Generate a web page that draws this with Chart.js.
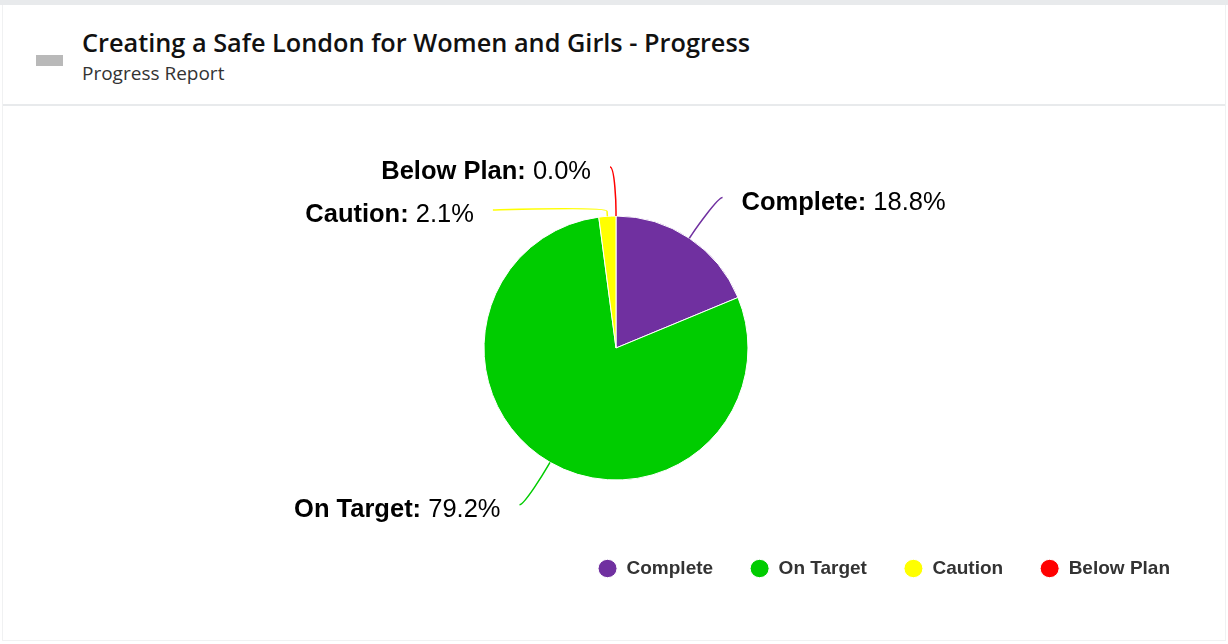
<!DOCTYPE html>
<html lang="en">
<head>
    <meta charset="UTF-8">
    <title>Creating a Safe London for Women and Girls - Progress</title>
    <script src="https://cdn.jsdelivr.net/npm/chart.js@4.4.0/dist/chart.umd.min.js"></script>
    <style>
        html, body { margin: 0; padding: 0; background: #fff; }
        body { width: 1228px; height: 644px; position: relative; overflow: hidden; font-family: "Open Sans", sans-serif; }
        .topbar { position: absolute; left: 0; top: 0; width: 1228px; height: 5px; background: #e8eaec; }
        .card { position: absolute; left: 2px; top: 5px; width: 1222px; height: 635px; border: 1px solid #f0f1f2; border-top: none; }
        .header { position: absolute; left: 0; top: 0; width: 1222px; height: 99px; border-bottom: 2px solid #e8eaec; }
        .icon { position: absolute; left: 33px; top: 50px; width: 27px; height: 11px; background: #b9b9b9; }
        .title { position: absolute; left: 79px; top: 20px; font-size: 25.3px; line-height: 34px; font-weight: 600; color: #111; white-space: nowrap; }
        .subtitle { position: absolute; left: 79px; top: 55px; font-size: 19px; line-height: 26px; color: #333; white-space: nowrap; }
        .chartbox { position: absolute; left: 3px; top: 106px; width: 1223px; height: 534px; }
    </style>
</head>
<body>
    <div class="topbar"></div>
    <div class="card">
        <div class="header">
            <div class="icon"></div>
            <div class="title">Creating a Safe London for Women and Girls - Progress</div>
            <div class="subtitle">Progress Report</div>
        </div>
    </div>
    <div class="chartbox"><canvas id="chart"></canvas></div>

    <script>
        const sliceLabels = ['Complete', 'On Target', 'Caution', 'Below Plan']
        const sliceValues = [9, 38, 1, 0]
        const sliceColors = ['#7030a0', '#00cc00', '#ffff00', '#ff0000']

        // highcharts-like outside labels with soft connectors
        const outsideLabels = {
            id: 'outsideLabels',
            afterDraw(chart) {
                const ctx = chart.ctx
                const meta = chart.getDatasetMeta(0)
                const total = sliceValues.reduce((a, b) => a + b, 0)
                const dist = 49
                const items = meta.data.map((arc, i) => {
                    const p = arc.getProps(['x', 'y', 'startAngle', 'endAngle', 'outerRadius'], true)
                    let mid = (p.startAngle + p.endAngle) / 2
                    while (mid <= -Math.PI / 2 + 1e-9) mid += Math.PI * 2
                    while (mid > Math.PI * 1.5 + 1e-9) mid -= Math.PI * 2
                    const R = p.outerRadius + dist
                    return {
                        i, mid, cx: p.x, cy: p.y, r: p.outerRadius, R,
                        left: mid > Math.PI / 2,
                        y: p.y + Math.sin(mid) * R
                    }
                })
                // push overlapping labels apart on each side
                ;[true, false].forEach(side => {
                    const list = items.filter(it => it.left === side).sort((a, b) => a.y - b.y)
                    for (let k = 1; k < list.length; k++) {
                        if (list[k].y < list[k - 1].y + 43) list[k].y = list[k - 1].y + 43
                    }
                })
                items.forEach(it => {
                    const dir = it.left ? -1 : 1
                    const dy = Math.max(-1, Math.min(1, (it.y - it.cy) / it.R))
                    const lx = it.cx + dir * Math.cos(Math.asin(dy)) * it.R
                    const ex = lx + dir * 6, ey = it.y
                    const tx = it.cx + Math.cos(it.mid) * it.r, ty = it.cy + Math.sin(it.mid) * it.r
                    const bx = it.cx + Math.cos(it.mid) * (it.r + 5), by = it.cy + Math.sin(it.mid) * (it.r + 5)

                    ctx.save()
                    ctx.strokeStyle = sliceColors[it.i]
                    ctx.lineWidth = 1.5
                    ctx.beginPath()
                    ctx.moveTo(ex, ey)
                    ctx.bezierCurveTo(ex - dir * 5, ey, 2 * bx - tx, 2 * by - ty, bx, by)
                    ctx.lineTo(tx, ty)
                    ctx.stroke()

                    const name = sliceLabels[it.i] + ':'
                    const val = ' ' + (sliceValues[it.i] / total * 100).toFixed(1) + '%'
                    const boldFont = 'bold 25.5px "Liberation Sans", Arial, sans-serif'
                    const normFont = '25.5px "Liberation Sans", Arial, sans-serif'
                    ctx.font = boldFont
                    const w1 = ctx.measureText(name).width
                    ctx.font = normFont
                    const w2 = ctx.measureText(val).width
                    let sx = ex + dir * 19
                    if (it.left) sx -= (w1 + w2)
                    ctx.fillStyle = '#000'
                    ctx.textBaseline = 'middle'
                    ctx.textAlign = 'left'
                    ctx.font = boldFont
                    ctx.fillText(name, sx, ey + 5)
                    ctx.font = normFont
                    ctx.fillText(val, sx + w1, ey + 5)
                    ctx.restore()
                })
            }
        }

        const ctx = document.getElementById('chart').getContext('2d')
        const myChart = new Chart(ctx, {
            type: 'pie',
            data: {
                labels: sliceLabels,
                datasets: [{
                    data: sliceValues,
                    backgroundColor: sliceColors,
                    borderColor: '#fff',
                    borderWidth: 1
                }]
            },
            options: {
                responsive: true,
                maintainAspectRatio: false,
                animation: false,
                radius: 132,
                layout: { padding: { top: 68, bottom: 52, left: 22, right: 19 } },
                plugins: {
                    tooltip: { enabled: false },
                    legend: {
                        position: 'bottom',
                        align: 'end',
                        labels: {
                            usePointStyle: true,
                            pointStyle: 'circle',
                            pointStyleWidth: 19,
                            boxHeight: 13,
                            padding: 37,
                            color: '#333',
                            font: { family: '"Liberation Sans", Arial, sans-serif', size: 19, weight: 'bold' }
                        }
                    }
                }
            },
            plugins: [outsideLabels]
        })
    </script>
</body>
</html>
